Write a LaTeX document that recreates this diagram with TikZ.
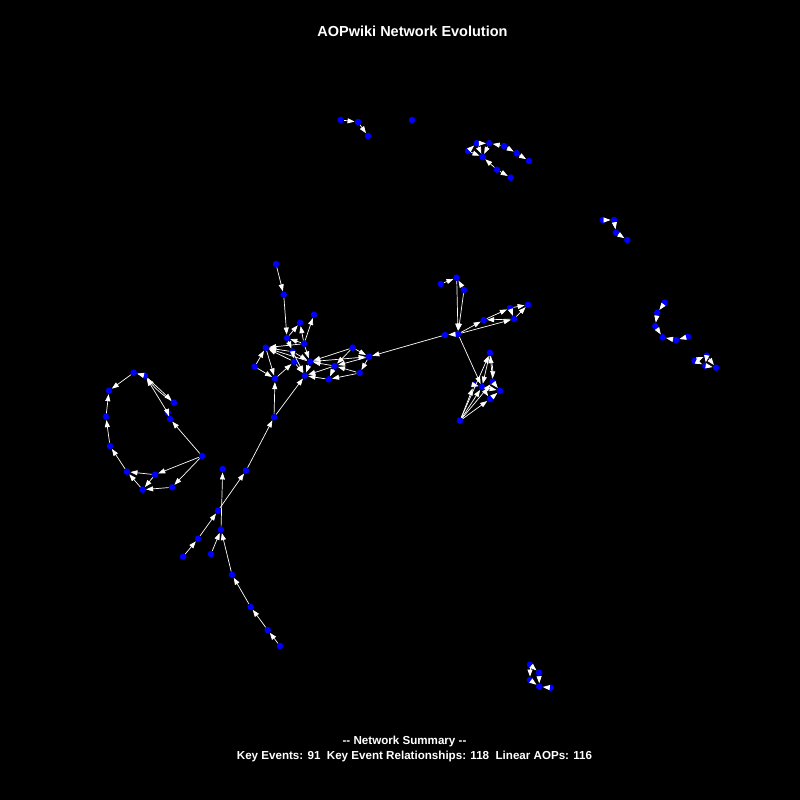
\documentclass[tikz,border=0pt]{standalone}
\usepackage{fontspec}
\setmainfont{Liberation Sans}
\usetikzlibrary{arrows.meta}
\tikzset{
  kev/.style={circle, fill=blue, draw=none, minimum size=6.5pt, inner sep=0pt},
  rel/.style={draw=white, line width=0.7pt, -{Triangle[length=7pt,width=5pt]}},
  ttl/.style={text=white, font=\bfseries\fontsize{14.5}{17}\selectfont},
  summ/.style={text=white, font=\bfseries\fontsize{11.6}{14}\selectfont},
}
\begin{document}
\begin{tikzpicture}[x=1pt,y=-1pt]
\fill[black] (0,0) rectangle (800,800);
\node[ttl] (title) at (412.5,31) {AOPwiki Network Evolution};
\node[summ] (sumhead) at (404.5,741) {-{}- Network Summary -{}-};
\node[summ] (sumline) at (414.5,756) {Key Events: 91\ \ Key Event Relationships: 118\ \ Linear AOPs: 116};
% main cluster
\node[kev] (a1) at (276,264) {};
\node[kev] (a2) at (283.7,294.7) {};
\node[kev] (a3) at (314,314.7) {};
\node[kev] (a4) at (300,322.7) {};
\node[kev] (a5) at (287,338) {};
\node[kev] (a6) at (304,343.7) {};
\node[kev] (a7) at (265.7,347.7) {};
\node[kev] (a8) at (292.7,351.7) {};
\node[kev] (a9) at (294,361.7) {};
\node[kev] (a10) at (310,361.7) {};
\node[kev] (a11) at (254.7,366.7) {};
\node[kev] (a12) at (334.7,366) {};
\node[kev] (a13) at (352.7,347.7) {};
\node[kev] (a14) at (369,356.7) {};
\node[kev] (a15) at (359.7,373) {};
\node[kev] (a16) at (305,375.7) {};
\node[kev] (a17) at (328.7,379.3) {};
\node[kev] (a18) at (275,378.7) {};
% chain below
\node[kev] (b4) at (222.7,469) {};
\node[kev] (b5) at (246,470.7) {};
\node[kev] (b6) at (274,417.3) {};
\node[kev] (b7) at (218,510.7) {};
\node[kev] (b8) at (221,529.7) {};
\node[kev] (b9) at (198,538.7) {};
\node[kev] (b10) at (183,556.7) {};
\node[kev] (b11) at (211,554) {};
\node[kev] (b12) at (232,574.7) {};
\node[kev] (b13) at (250.7,607) {};
\node[kev] (b14) at (267.7,630) {};
\node[kev] (b15) at (280,646) {};
% loop on the left
\node[kev] (c1) at (133.7,372.7) {};
\node[kev] (c2) at (145,375.7) {};
\node[kev] (c3) at (109,390.7) {};
\node[kev] (c4) at (174,402.7) {};
\node[kev] (c5) at (167.7,412.7) {};
\node[kev] (c6) at (170,419) {};
\node[kev] (c7) at (106,416.7) {};
\node[kev] (c8) at (110,446) {};
\node[kev] (c9) at (202,456) {};
\node[kev] (c10) at (127,471.7) {};
\node[kev] (c11) at (155,474.7) {};
\node[kev] (c12) at (172,487.3) {};
\node[kev] (c13) at (142.7,489.7) {};
% cluster on the right
\node[kev] (d1) at (440.7,284) {};
\node[kev] (d2) at (456.7,277.7) {};
\node[kev] (d3) at (464,290) {};
\node[kev] (d5) at (445,335) {};
\node[kev] (d6) at (458,334) {};
\node[kev] (d7) at (483.7,320) {};
\node[kev] (d8) at (510,308) {};
\node[kev] (d9) at (528,304.7) {};
\node[kev] (d10) at (514,319) {};
\node[kev] (d11) at (490,352.7) {};
\node[kev] (d12) at (492.7,381.7) {};
\node[kev] (d13) at (474,385) {};
\node[kev] (d14) at (482,387) {};
\node[kev] (d15) at (500,390.7) {};
\node[kev] (d16) at (490,399) {};
\node[kev] (d17) at (460,420.7) {};
% small groups
\node[kev] (e1) at (476.7,143.3) {};
\node[kev] (e2) at (489.3,143.3) {};
\node[kev] (e3) at (468,151) {};
\node[kev] (e4) at (482.7,157) {};
\node[kev] (e5) at (504,146) {};
\node[kev] (e6) at (516.7,153.3) {};
\node[kev] (e7) at (529,161) {};
\node[kev] (e8) at (497,169.7) {};
\node[kev] (e9) at (510.7,177.7) {};
\node[kev] (f1) at (340.7,120) {};
\node[kev] (f2) at (358,122) {};
\node[kev] (f3) at (368,136) {};
\node[kev] (f4) at (412,120) {};
\node[kev] (g1) at (602.7,220) {};
\node[kev] (g2) at (614,220) {};
\node[kev] (g3) at (616,232.7) {};
\node[kev] (g4) at (627.3,240) {};
\node[kev] (h1) at (664.7,302.7) {};
\node[kev] (h2) at (657.3,312.7) {};
\node[kev] (h3) at (655.3,326) {};
\node[kev] (h4) at (662.7,337.3) {};
\node[kev] (h5) at (676,340) {};
\node[kev] (h6) at (688,336.7) {};
\node[kev] (i1) at (694.7,360.7) {};
\node[kev] (i2) at (706.7,355.7) {};
\node[kev] (i3) at (705.3,365.7) {};
\node[kev] (i4) at (716,367.7) {};
\node[kev] (j1) at (530,664.7) {};
\node[kev] (j2) at (539,672.7) {};
\node[kev] (j3) at (530,680) {};
\node[kev] (j4) at (539.3,686.7) {};
\node[kev] (j5) at (550.7,687.7) {};
% relationships
\draw[rel] (a1) -- (a2);
\draw[rel] (a2) -- (a5);
\draw[rel] (a5) -- (a4);
\draw[rel] (a6) -- (a4);
\draw[rel] (a6) -- (a3);
\draw[rel] (a6) -- (a5);
\draw[rel] (a8) -- (a7);
\draw[rel] (a9) -- (a7);
\draw[rel] (a10) -- (a7);
\draw[rel] (a6) -- (a7);
\draw[rel] (a11) -- (a7);
\draw[rel] (a11) -- (a18);
\draw[rel] (a7) -- (a18);
\draw[rel] (a18) -- (a9);
\draw[rel] (a9) -- (a16);
\draw[rel] (a10) -- (a16);
\draw[rel] (a17) -- (a16);
\draw[rel] (a12) -- (a16);
\draw[rel] (a13) -- (a12);
\draw[rel] (a14) -- (a12);
\draw[rel] (a15) -- (a12);
\draw[rel] (a12) -- (a17);
\draw[rel] (a12) -- (a10);
\draw[rel] (a13) -- (a14);
\draw[rel] (a14) -- (a15);
\draw[rel] (a10) -- (a14);
\draw[rel] (a8) -- (a10);
\draw[rel] (a6) -- (a10);
\draw[rel] (a8) -- (a9);
\draw[rel] (a15) -- (a17);
\draw[rel] (a13) -- (a10);
\draw[rel] (a5) -- (a8);
\draw[rel] (a8) -- (a16);
\draw[rel] (b15) -- (b14);
\draw[rel] (b14) -- (b13);
\draw[rel] (b13) -- (b12);
\draw[rel] (b12) -- (b8);
\draw[rel] (b8) -- (b4);
\draw[rel] (b11) -- (b8);
\draw[rel] (b10) -- (b9);
\draw[rel] (b9) -- (b7);
\draw[rel] (b7) -- (b5);
\draw[rel] (b5) -- (b6);
\draw[rel] (b6) -- (a18);
\draw[rel] (b6) -- (a16);
\draw[rel] (c2) -- (c1);
\draw[rel] (c1) -- (c3);
\draw[rel] (c7) -- (c3);
\draw[rel] (c8) -- (c7);
\draw[rel] (c10) -- (c8);
\draw[rel] (c11) -- (c10);
\draw[rel] (c13) -- (c10);
\draw[rel] (c12) -- (c13);
\draw[rel] (c11) -- (c13);
\draw[rel] (c9) -- (c11);
\draw[rel] (c9) -- (c12);
\draw[rel] (c9) -- (c6);
\draw[rel] (c6) -- (c5);
\draw[rel] (c5) -- (c2);
\draw[rel] (c2) -- (c4);
\draw[rel] (c4) to[bend left=8] (c2);
\draw[rel] (d1) -- (d2);
\draw[rel] (d3) -- (d2);
\draw[rel] (d2) -- (d6);
\draw[rel] (d3) -- (d6);
\draw[rel] (d6) -- (d5);
\draw[rel] (d5) -- (a14);
\draw[rel] (d6) -- (d7);
\draw[rel] (d6) -- (d10);
\draw[rel] (d10) -- (d7);
\draw[rel] (d7) -- (d8);
\draw[rel] (d8) -- (d9);
\draw[rel] (d10) -- (d9);
\draw[rel] (d8) -- (d10);
\draw[rel] (d6) -- (d14);
\draw[rel] (d17) -- (d11);
\draw[rel] (d17) -- (d13);
\draw[rel] (d17) -- (d14);
\draw[rel] (d17) -- (d16);
\draw[rel] (d17) -- (d12);
\draw[rel] (d12) -- (d11);
\draw[rel] (d11) to[bend left=6] (d12);
\draw[rel] (d13) -- (d14);
\draw[rel] (d14) -- (d15);
\draw[rel] (d16) -- (d15);
\draw[rel] (d12) -- (d15);
\draw[rel] (d14) -- (d16);
\draw[rel] (d11) -- (d14);
\draw[rel] (e1) -- (e2);
\draw[rel] (e5) -- (e2);
\draw[rel] (e5) -- (e6);
\draw[rel] (e6) -- (e7);
\draw[rel] (e3) -- (e1);
\draw[rel] (e1) -- (e4);
\draw[rel] (e3) -- (e4);
\draw[rel] (e2) -- (e4);
\draw[rel] (e8) -- (e4);
\draw[rel] (e8) -- (e9);
\draw[rel] (f1) -- (f2);
\draw[rel] (f2) -- (f3);
\draw[rel] (g1) -- (g2);
\draw[rel] (g2) -- (g3);
\draw[rel] (g3) -- (g4);
\draw[rel] (h1) -- (h2);
\draw[rel] (h2) -- (h3);
\draw[rel] (h3) -- (h4);
\draw[rel] (h5) -- (h4);
\draw[rel] (h6) -- (h5);
\draw[rel] (i1) -- (i2);
\draw[rel] (i1) -- (i3);
\draw[rel] (i2) -- (i4);
\draw[rel] (i3) -- (i4);
\draw[rel] (i2) -- (i3);
\draw[rel] (j1) -- (j2);
\draw[rel] (j1) -- (j3);
\draw[rel] (j2) -- (j4);
\draw[rel] (j3) -- (j4);
\draw[rel] (j5) -- (j4);
\end{tikzpicture}
\end{document}
